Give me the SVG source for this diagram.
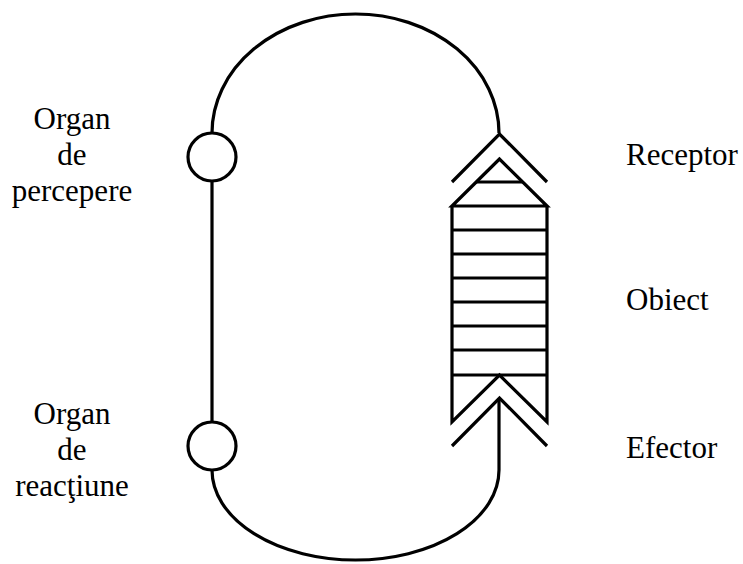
<svg xmlns="http://www.w3.org/2000/svg" width="743" height="564" viewBox="0 0 743 564">
<style>
.s{fill:none;stroke:#000;stroke-width:3.2;stroke-linejoin:miter;stroke-linecap:butt}
</style>
<rect width="743" height="564" fill="#fff"/>
<g id="connectors">
<path class="s" d="M212,133 A143.5,119 0 0 1 499,133"/>
<line class="s" x1="212" y1="181" x2="212" y2="422"/>
<path class="s" d="M212,470 A143.5,90 0 0 0 499,470"/>
<line class="s" x1="499" y1="398" x2="499" y2="470"/>
</g>
<g id="organ-percepere">
<circle class="s" cx="212" cy="157" r="24"/>
<text font-family="Liberation Serif, serif" font-size="31" text-anchor="middle" x="72" y="129">Organ</text>
<text font-family="Liberation Serif, serif" font-size="31" text-anchor="middle" x="72" y="165">de</text>
<text font-family="Liberation Serif, serif" font-size="31" text-anchor="middle" x="72" y="201">percepere</text>
</g>
<g id="organ-reactiune">
<circle class="s" cx="212" cy="446" r="24"/>
<text font-family="Liberation Serif, serif" font-size="31" text-anchor="middle" x="72" y="424">Organ</text>
<text font-family="Liberation Serif, serif" font-size="31" text-anchor="middle" x="72" y="460">de</text>
<text font-family="Liberation Serif, serif" font-size="31" text-anchor="middle" x="72" y="496">reacţiune</text>
</g>
<g id="receptor">
<polyline class="s" points="452,182 499.5,134 547,182"/>
<text font-family="Liberation Serif, serif" font-size="31" x="626" y="165">Receptor</text>
</g>
<g id="obiect">
<path class="s" d="M499.5,159 L452,206 L547,206 Z"/>
<line class="s" x1="476" y1="182" x2="523" y2="182"/>
<path class="s" d="M452,206 V422 L499.5,375 L547,422 V206"/>
<path class="s" d="M452,230H547M452,254H547M452,278H547M452,302H547M452,326H547M452,350H547M452,375H547"/>
<text font-family="Liberation Serif, serif" font-size="31" x="626" y="310">Obiect</text>
</g>
<g id="efector">
<polyline class="s" points="452,446 499.5,398 547,446"/>
<text font-family="Liberation Serif, serif" font-size="31" x="626" y="458">Efector</text>
</g>
</svg>
